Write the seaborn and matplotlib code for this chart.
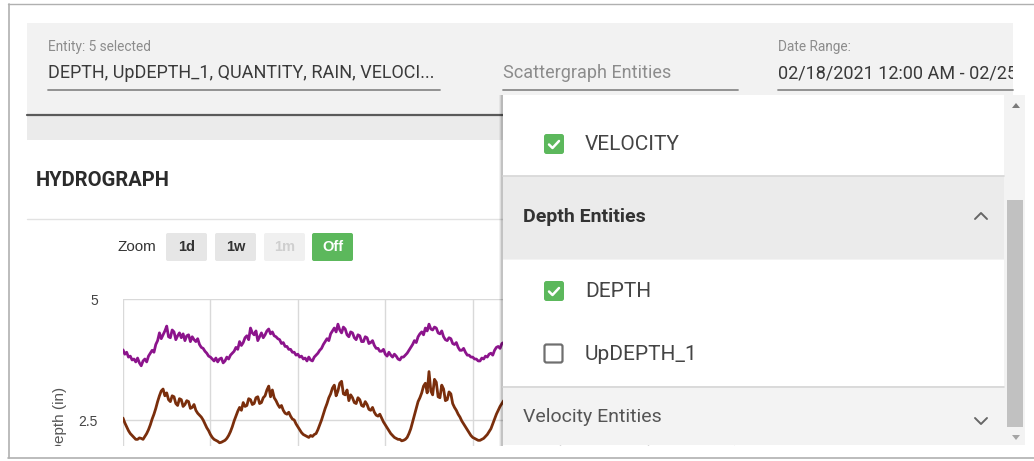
import numpy as np
import pandas as pd
import matplotlib
matplotlib.use("Agg")
import matplotlib.pyplot as plt
import seaborn as sns
from matplotlib.patches import Rectangle, FancyBboxPatch, Polygon
from matplotlib.lines import Line2D

# half-hourly readings from 02/18/2021 12:00 AM (only the part not hidden by the dropdown)
hours = [i / 2 for i in range(210)]
depth_up = [3.95, 3.86, 3.90, 3.80, 3.82, 3.74, 3.76, 3.70, 3.78, 3.68,
            3.62, 3.72, 3.76, 3.70, 3.82, 3.88, 3.94, 3.90, 4.06, 4.14,
            4.30, 4.18, 4.26, 4.34, 4.44, 4.22, 4.20, 4.36, 4.32, 4.16,
            4.24, 4.30, 4.20, 4.28, 4.14, 4.24, 4.26, 4.12, 4.22, 4.16,
            4.12, 4.18, 4.06, 4.00, 3.98, 3.92, 3.88, 3.82, 3.80, 3.76,
            3.72, 3.78, 3.70, 3.76, 3.78, 3.68, 3.72, 3.80, 3.76, 3.84,
            3.88, 3.92, 4.00, 3.96, 4.12, 4.04, 4.10, 4.20, 4.24, 4.16,
            4.40, 4.30, 4.26, 4.34, 4.14, 4.22, 4.30, 4.20, 4.26, 4.34,
            4.38, 4.28, 4.32, 4.24, 4.22, 4.18, 4.16, 4.08, 4.10, 4.02,
            4.02, 3.96, 3.96, 3.90, 3.90, 3.84, 3.86, 3.80, 3.82, 3.76,
            3.78, 3.72, 3.80, 3.74, 3.72, 3.80, 3.84, 3.88, 3.94, 3.98,
            4.06, 4.12, 4.18, 4.14, 4.28, 4.34, 4.40, 4.32, 4.48, 4.36,
            4.30, 4.42, 4.38, 4.26, 4.22, 4.32, 4.30, 4.20, 4.16, 4.26,
            4.24, 4.12, 4.12, 4.22, 4.20, 4.08, 4.10, 4.14, 4.04, 3.98,
            3.98, 3.92, 3.92, 3.96, 3.86, 3.82, 3.90, 3.84, 3.80, 3.86,
            3.82, 3.76, 3.74, 3.80, 3.80, 3.84, 3.88, 3.94, 4.00, 4.06,
            4.14, 4.10, 4.22, 4.28, 4.32, 4.26, 4.40, 4.34, 4.48, 4.38,
            4.36, 4.42, 4.40, 4.30, 4.28, 4.34, 4.22, 4.16, 4.14, 4.20,
            4.18, 4.08, 4.06, 4.10, 4.00, 3.94, 3.94, 3.98, 3.90, 3.84,
            3.84, 3.80, 3.80, 3.76, 3.76, 3.72, 3.72, 3.78, 3.76, 3.82,
            3.80, 3.86, 3.88, 3.84, 3.94, 4.00, 4.02, 3.98, 4.08, 4.10]
depth = [2.54, 2.44, 2.36, 2.28, 2.22, 2.18, 2.14, 2.10, 2.10, 2.13,
         2.12, 2.10, 2.16, 2.22, 2.30, 2.40, 2.52, 2.62, 2.74, 2.88,
         3.00, 3.10, 3.14, 3.00, 3.06, 2.92, 2.88, 3.00, 2.98, 2.84,
         2.80, 2.94, 2.92, 2.78, 2.82, 2.90, 2.88, 2.74, 2.76, 2.82,
         2.70, 2.64, 2.60, 2.56, 2.50, 2.42, 2.34, 2.28, 2.20, 2.14,
         2.10, 2.08, 2.06, 2.03, 2.04, 2.06, 2.08, 2.12, 2.18, 2.26,
         2.36, 2.48, 2.58, 2.68, 2.76, 2.70, 2.86, 2.78, 2.80, 2.94,
         2.92, 2.82, 2.84, 2.96, 2.98, 2.84, 2.86, 2.96, 3.00, 3.12,
         3.20, 2.98, 3.12, 2.96, 2.90, 2.82, 2.76, 2.80, 2.70, 2.64,
         2.62, 2.66, 2.58, 2.52, 2.50, 2.42, 2.36, 2.30, 2.24, 2.20,
         2.18, 2.16, 2.14, 2.18, 2.16, 2.20, 2.22, 2.30, 2.40, 2.50,
         2.62, 2.74, 2.84, 2.96, 3.04, 3.16, 3.22, 3.00, 3.10, 3.26,
         3.30, 3.04, 3.02, 3.12, 2.90, 3.02, 2.96, 2.86, 2.84, 2.96,
         2.92, 2.80, 2.78, 2.88, 2.82, 2.72, 2.70, 2.76, 2.66, 2.60,
         2.58, 2.62, 2.54, 2.46, 2.40, 2.34, 2.28, 2.22, 2.18, 2.14,
         2.12, 2.10, 2.10, 2.07, 2.08, 2.10, 2.14, 2.22, 2.32, 2.46,
         2.60, 2.74, 2.88, 2.96, 3.06, 3.20, 3.26, 3.06, 3.50, 3.10,
         3.02, 3.34, 3.28, 2.98, 2.96, 3.22, 3.14, 2.90, 2.92, 3.08,
         3.04, 2.84, 2.76, 2.70, 2.62, 2.56, 2.48, 2.42, 2.36, 2.30,
         2.24, 2.18, 2.14, 2.12, 2.10, 2.08, 2.08, 2.10, 2.12, 2.16,
         2.20, 2.26, 2.32, 2.42, 2.52, 2.62, 2.70, 2.78, 2.84, 2.90]
series_colors = {"UpDEPTH": "#8c148c", "DEPTH": "#7a2e0c"}
y_ticks = [0, 2.5, 5]
y_tick_labels = ["0", "2.5", "5"]
x_days = [0, 24, 48, 72, 96, 120, 144, 168]

entity_text = "DEPTH, UpDEPTH_1, QUANTITY, RAIN, VELOCI..."
date_text = "02/18/2021 12:00 AM - 02/25/2021 12:00 AM"
zoom_buttons = ["1d", "1w", "1m", "Off"]

sns.set_theme(style="white")
plt.rcParams["font.family"] = ["Roboto", "DejaVu Sans"]

W, H = 1034, 461
fig = plt.figure(figsize=(W / 100, H / 100), dpi=100)
fig.patch.set_facecolor("white")


def px_axes(z):
    a = fig.add_axes([0, 0, 1, 1], zorder=z)
    a.set_xlim(0, W)
    a.set_ylim(H, 0)
    a.axis("off")
    a.patch.set_visible(False)
    return a


def rect(a, x0, y0, x1, y1, color, **kw):
    a.add_patch(Rectangle((x0, y0), x1 - x0, y1 - y0, facecolor=color,
                          edgecolor="none", **kw))


def hline(a, x0, x1, y, color, lw=1.0):
    a.add_line(Line2D([x0, x1], [y, y], color=color, lw=lw))


# ---- background: window, filter bar, card ----
bg = px_axes(0)
rect(bg, 27, 23, 1013, 115, "#f2f2f2")
rect(bg, 27, 116, 1013, 140, "#ebebeb")
hline(bg, 27, 1013, 115.5, "#5a5a5a", 1.6)

bg.text(48, 47, "Entity: 5 selected", fontsize=9.8, color="#8c8c8c", va="center")
bg.text(48, 73, entity_text, fontsize=13, color="#3a3a3a", va="center")
hline(bg, 48, 440, 90, "#8a8a8a", 1.3)
bg.text(503, 73, "Scattergraph Entities", fontsize=13, color="#8c8c8c", va="center")
hline(bg, 503, 738, 90, "#8a8a8a", 1.3)
bg.text(778, 47, "Date Range:", fontsize=9.8, color="#8c8c8c", va="center")
bg.text(778, 73, date_text, fontsize=13, color="#3a3a3a", va="center")
hline(bg, 778, 1013, 90, "#8a8a8a", 1.3)

bg.text(36, 180, "HYDROGRAPH", fontsize=14.5, fontweight="bold", color="#2b2b2b", va="center")
hline(bg, 27, 503, 218.5, "#e2e2e2", 1.0)

bg.text(117, 247, "Zoom", fontsize=11, color="#333333", va="center",
        family="Liberation Sans")
btn_x = [166, 215, 264, 312]
btn_bg = ["#e6e6e6", "#e6e6e6", "#f0f0f0", "#5cb85c"]
btn_fg = ["#333333", "#333333", "#cfcfcf", "white"]
for lab, x0, fc, tc in zip(zoom_buttons, btn_x, btn_bg, btn_fg):
    bg.add_patch(FancyBboxPatch((x0 + 2, 235), 37, 24, boxstyle="round,pad=2,rounding_size=2",
                                facecolor=fc, edgecolor="none"))
    bg.text(x0 + 20.5, 247, lab, fontsize=10.5, fontweight="bold", color=tc,
            ha="center", va="center", family="Liberation Sans")

# ---- chart ----
ax = fig.add_axes([123 / W, 1 - 541 / H, 612 / W, 242 / H], zorder=1)
df = pd.DataFrame({
    "hour": hours * 2,
    "value": depth_up + depth,
    "series": ["UpDEPTH"] * len(hours) + ["DEPTH"] * len(hours),
})
sns.lineplot(data=df, x="hour", y="value", hue="series", palette=series_colors,
             linewidth=2.0, legend=False, ax=ax)
ax.set_xlim(0, 168)
ax.set_ylim(0, 5)
ax.set_xticks(x_days)
ax.set_xticklabels([])
ax.set_yticks(y_ticks)
ax.set_yticklabels(y_tick_labels, family="Liberation Sans", fontsize=10, color="#444444")
ax.tick_params(axis="y", length=4, width=1, color="#cccccc", pad=14)
ax.tick_params(axis="x", length=0)
ax.grid(True, color="#d9d9d9", linewidth=1)
ax.set_axisbelow(True)
for s in ax.spines.values():
    s.set_visible(False)
ax.set_xlabel("")
ax.set_ylabel("Depth (in)", family="Liberation Sans", fontsize=11, color="#555555")
ax.yaxis.set_label_coords(-0.0915, 0.5)

# ---- foreground: dropdown panel, bottom edge ----
fg = px_axes(2)
rect(fg, 1013, 55, W, 88, "white")  # date field is cut at the bar's edge
for i, al in enumerate([0.05, 0.08, 0.12]):
    rect(fg, 499 + i, 95, 503, 446, "black", alpha=al)
rect(fg, 503, 95, 1025, 445, "#f3f3f3")
rect(fg, 503, 95, 1004, 176, "white")
hline(fg, 503, 1004, 176.5, "#d6d6d6", 1.2)
rect(fg, 503, 177, 1004, 259, "#ebebeb")
rect(fg, 503, 260, 1004, 386, "white")
hline(fg, 503, 1004, 386.5, "#d6d6d6", 1.2)
rect(fg, 503, 387, 1004, 445, "#f3f3f3")

# scrollbar
rect(fg, 1007, 200, 1023, 427, "#c1c1c1")
fg.add_patch(Polygon([[1012, 108], [1020, 108], [1016, 103]], closed=True,
                     facecolor="#7a7a7a", edgecolor="none"))
fg.add_patch(Polygon([[1012, 435], [1020, 435], [1016, 440]], closed=True,
                     facecolor="#a5a5a5", edgecolor="none"))


def checkbox(a, x0, y0, checked):
    if checked:
        a.add_patch(FancyBboxPatch((x0 + 1.5, y0 + 1.5), 17, 17,
                                   boxstyle="round,pad=1.5,rounding_size=2.5",
                                   facecolor="#5cb85c", edgecolor="none"))
        a.add_line(Line2D([x0 + 5, x0 + 8.5, x0 + 15], [y0 + 10.5, y0 + 14, y0 + 7],
                          color="white", lw=1.8, solid_capstyle="round"))
    else:
        a.add_patch(FancyBboxPatch((x0 + 1.5, y0 + 1.5), 16, 16,
                                   boxstyle="round,pad=1,rounding_size=2",
                                   facecolor="white", edgecolor="#6f6f6f", lw=1.6))


checkbox(fg, 544, 134, True)
fg.text(585, 144, "VELOCITY", fontsize=15, color="#444444", va="center")
fg.text(523, 217, "Depth Entities", fontsize=14, fontweight="bold", color="#333333", va="center")
fg.add_line(Line2D([975, 981, 987], [219, 213, 219], color="#666666", lw=1.4))
checkbox(fg, 544, 281, True)
fg.text(585, 291, "DEPTH", fontsize=15, color="#444444", va="center")
checkbox(fg, 544, 344, False)
fg.text(585, 354, "UpDEPTH_1", fontsize=15, color="#444444", va="center")
fg.text(523, 417, "Velocity Entities", fontsize=14, color="#555555", va="center")
fg.add_line(Line2D([975, 981, 987], [418, 424, 418], color="#666666", lw=1.4))

# window edges
rect(fg, 9, 446, W, H, "white")
hline(fg, 8, W, 4.5, "#b0b0b0", 1.0)
hline(fg, 8, W, 457.5, "#b0b0b0", 1.2)
fg.add_line(Line2D([8.5, 8.5], [4, 458], color="#b0b0b0", lw=1.2))

fig.savefig("out.png", dpi=100, facecolor="white")
